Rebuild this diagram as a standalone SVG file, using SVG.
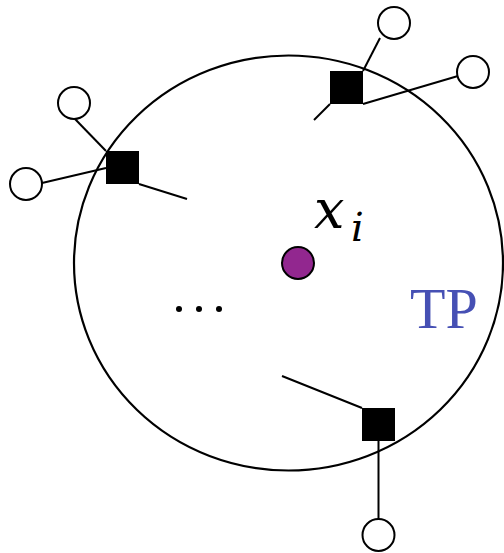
<svg xmlns="http://www.w3.org/2000/svg" width="504" height="553" viewBox="0 0 504 553">
<style>
.ln{stroke:#000;stroke-width:2;fill:none}
.sq{fill:#000}
.leaf{fill:#fff;stroke:#000;stroke-width:2}
.math{font-family:'DejaVu Serif',serif;font-style:italic}
</style>
<rect width="504" height="553" fill="#fff"/>
<g id="tp-region">
<ellipse cx="288.5" cy="263" rx="214.5" ry="207.5" fill="none" stroke="#000" stroke-width="2.2"/>
</g>
<g id="connectors">
<line class="ln" x1="363" y1="71" x2="380" y2="38"/>
<line class="ln" x1="363" y1="104" x2="458" y2="76"/>
<line class="ln" x1="330" y1="104" x2="314" y2="120"/>
<line class="ln" x1="106" y1="151" x2="75" y2="119"/>
<line class="ln" x1="106" y1="168" x2="42" y2="183"/>
<line class="ln" x1="139" y1="184" x2="187" y2="199"/>
<line class="ln" x1="362" y1="408" x2="282" y2="376"/>
<line class="ln" x1="378.5" y1="441" x2="378.5" y2="519"/>
</g>
<g id="node-top-right">
<rect class="sq" x="330" y="71" width="33" height="33"/>
<circle class="leaf" cx="394" cy="23" r="16"/>
<circle class="leaf" cx="473" cy="72" r="16"/>
</g>
<g id="node-left">
<rect class="sq" x="106" y="151" width="33" height="33"/>
<circle class="leaf" cx="74" cy="103" r="16"/>
<circle class="leaf" cx="26" cy="184" r="16"/>
</g>
<g id="node-bottom">
<rect class="sq" x="362" y="408" width="33" height="33"/>
<circle class="leaf" cx="378.5" cy="535" r="16"/>
</g>
<g id="node-xi">
<circle cx="298" cy="263" r="16" fill="#92278F" stroke="#000" stroke-width="2"/>
<text class="math" x="314" y="228" font-size="54">x</text>
<text class="math" x="351" y="241" font-size="40">i</text>
</g>
<g id="dots">
<circle cx="179" cy="309" r="3"/>
<circle cx="199" cy="309" r="3"/>
<circle cx="219" cy="309" r="3"/>
</g>
<text x="410" y="328" font-family="'Liberation Serif', serif" font-size="58" fill="#4650B4">TP</text>
</svg>
